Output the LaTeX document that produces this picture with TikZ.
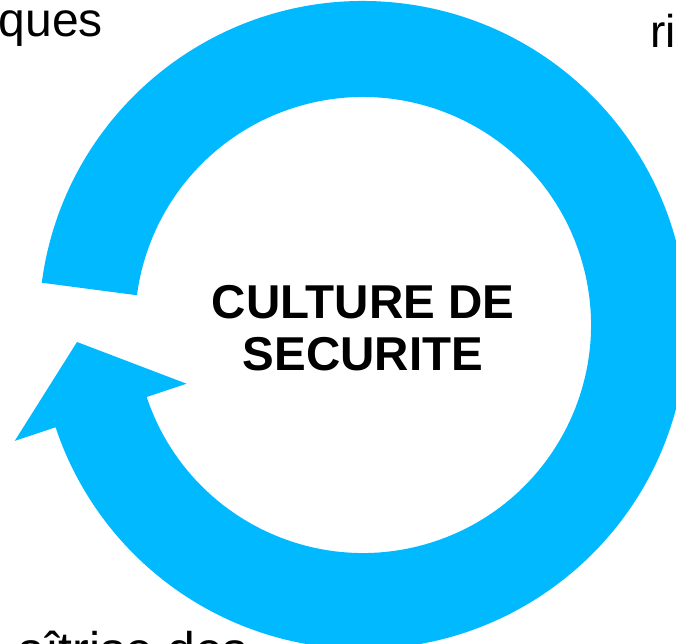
\documentclass[tikz,border=0pt]{standalone}
\usepackage{fontspec}
\setmainfont{Liberation Sans}
\usepackage{tikz}
\usetikzlibrary{calc}
\definecolor{cycleblue}{HTML}{00B9FF}

\begin{document}
\begin{tikzpicture}[x=1pt,y=1pt]

    % Fix the frame of the picture
    \useasboundingbox (0,0) rectangle (676,643);
    \clip (0,0) rectangle (676,643);

    % Centre of the ring
    \coordinate (c) at (363,318);

    % Draw the circular arrow
    \fill[cycleblue] ($(c)+(172.5:324)$) arc[start angle=172.5, end angle=-161.6, radius=324]
        -- ($(c)+(198.4:367)$) -- ($(c)+(183.4:286.5)$) -- ($(c)+(198.4:186)$)
        -- ($(c)+(198.4:228)$) arc[start angle=-161.6, end angle=172.5, radius=228] -- cycle;

    % Place the title in the middle
    \node[inner sep=0, align=center, font=\fontsize{47.5}{52}\selectfont\bfseries] (culture) at (363,314.5) {CULTURE DE\\SECURITE};

    % Place the cut labels at the edges
    \node[inner sep=0, anchor=base east, font=\fontsize{48}{57}\selectfont] (ques) at (103,606) {ques};
    \node[inner sep=0, anchor=base west, font=\fontsize{46}{55}\selectfont] (ri) at (650,595) {ri};
    \node[inner sep=0, anchor=base west, font=\fontsize{50}{60}\selectfont] (maitrise) at (17,-24) {aîtrise des};

\end{tikzpicture}
\end{document}
